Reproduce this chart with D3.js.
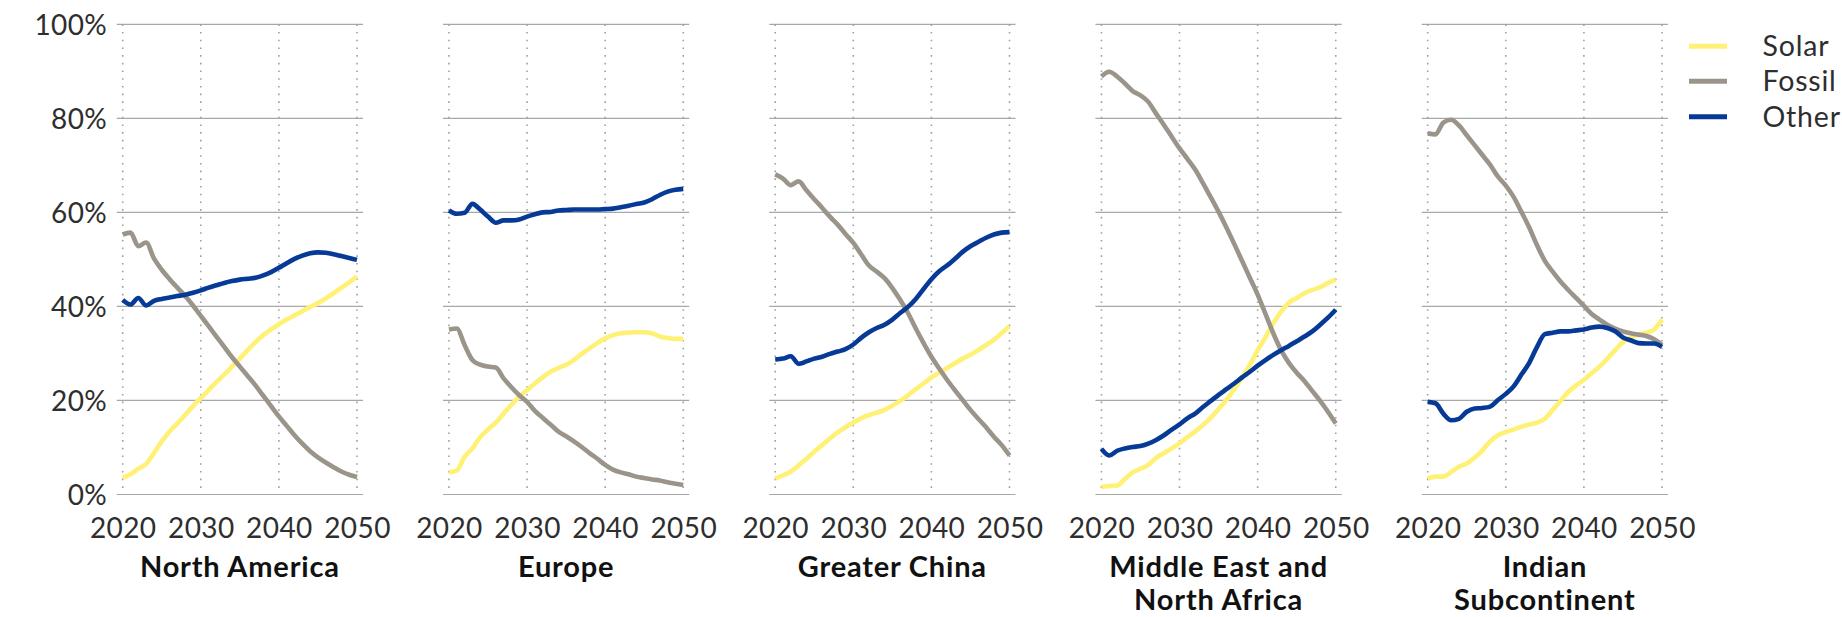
<!DOCTYPE html>
<html>
<head>
<meta charset="utf-8">
<script src="https://cdn.jsdelivr.net/npm/d3@7"></script>
<style>
  html, body { margin: 0; padding: 0; background: #fff; }
  svg { display: block; }
  text { font-family: Lato, "Open Sans", sans-serif; }
</style>
</head>
<body>
<svg id="chart" width="1842" height="617"></svg>
<script>
const years = d3.range(2020, 2051);
const regions = ["North America", "Europe", "Greater China", "Middle East and North Africa", "Indian Subcontinent"];
const regionLines = [["North America"], ["Europe"], ["Greater China"], ["Middle East and", "North Africa"], ["Indian", "Subcontinent"]];
const seriesNames = ["Solar", "Fossil", "Other"];
const yTicks = [0, 20, 40, 60, 80, 100];
const xTicks = [2020, 2030, 2040, 2050];

// North America
const naSolar  = [3.6,4.3,5.5,6.5,8.8,11.3,13.4,15.1,16.9,18.8,20.5,22.2,23.9,25.5,27.2,28.9,30.7,32.4,33.9,35.1,36.2,37.2,38.1,39.0,39.9,40.7,41.7,42.8,44.0,45.1,46.4];
const naFossil = [55.3,55.7,52.8,53.6,50.2,47.8,45.8,44.0,42.2,40.2,38.0,35.8,33.6,31.4,29.2,27.2,25.2,23.2,21.0,18.8,16.6,14.6,12.6,10.8,9.2,7.9,6.8,5.8,4.9,4.2,3.7];
const naOther  = [41.4,40.4,41.8,40.2,41.2,41.6,41.9,42.2,42.5,42.9,43.4,44.0,44.5,45.0,45.4,45.7,45.9,46.1,46.6,47.3,48.2,49.2,50.1,50.8,51.3,51.5,51.4,51.1,50.7,50.3,49.9];
// Europe
const euSolar  = [4.7,5.1,8.0,9.8,12.2,13.8,15.3,17.2,19.1,20.8,22.2,23.6,24.9,26.1,26.9,27.6,28.6,29.9,31.1,32.2,33.2,33.9,34.3,34.4,34.5,34.5,34.3,33.6,33.3,33.1,33.1];
const euFossil = [35.1,35.3,31.8,28.6,27.6,27.2,27.0,24.7,22.8,21.1,19.7,17.8,16.3,14.9,13.4,12.4,11.3,10.1,8.8,7.6,6.3,5.3,4.7,4.3,3.8,3.5,3.2,3.0,2.6,2.3,2.0];
const euOther  = [60.4,59.7,59.9,61.8,60.6,59.1,57.8,58.3,58.3,58.5,59.1,59.6,60.0,60.1,60.4,60.5,60.6,60.6,60.6,60.6,60.7,60.8,61.1,61.4,61.8,62.1,62.8,63.7,64.4,64.8,65.0];
// Greater China
const cnSolar  = [3.4,4.1,4.9,6.2,7.6,9.1,10.5,11.9,13.2,14.3,15.3,16.2,16.9,17.4,18.0,18.9,19.9,21.1,22.4,23.6,24.9,25.9,26.9,27.9,28.9,29.7,30.7,31.8,32.9,34.3,35.8];
const cnFossil = [68.1,67.2,65.8,66.6,64.7,62.8,61.0,59.1,57.4,55.4,53.5,51.1,48.7,47.4,46.0,43.9,41.4,38.6,35.3,32.2,29.3,26.8,24.4,22.2,20.1,18.0,16.1,14.3,12.3,10.5,8.3];
const cnOther  = [28.7,28.9,29.4,27.8,28.3,28.9,29.3,29.9,30.4,30.9,31.9,33.3,34.5,35.4,36.1,37.2,38.6,39.9,41.6,43.7,45.8,47.5,48.7,50.1,51.6,52.8,53.7,54.6,55.3,55.7,55.8];
// Middle East and North Africa
const meSolar  = [1.6,1.8,1.9,3.3,4.7,5.5,6.3,7.8,8.8,9.8,10.9,12.2,13.4,14.8,16.3,18.2,20.1,22.4,24.9,27.6,30.7,33.4,36.4,38.9,40.8,41.8,42.8,43.5,44.1,45.0,45.7];
const meFossil = [88.9,89.9,88.9,87.4,85.8,84.9,83.5,81.0,78.6,76.1,73.6,71.4,69.1,66.2,63.2,60.1,56.8,53.3,49.7,46.1,42.5,38.4,34.3,30.7,28.0,25.9,24.1,22.0,19.9,17.6,15.1];
const meOther  = [9.7,8.3,9.3,9.8,10.1,10.3,10.8,11.6,12.6,13.8,14.9,16.2,17.2,18.6,19.9,21.2,22.4,23.6,24.9,26.1,27.4,28.6,29.7,30.7,31.6,32.6,33.6,34.7,36.1,37.6,39.3];
// Indian Subcontinent
const inSolar  = [3.4,3.8,3.8,4.8,5.9,6.6,7.8,9.4,11.3,12.6,13.3,13.8,14.4,14.9,15.3,16.1,18.0,19.9,21.8,23.2,24.4,25.8,27.2,28.9,30.7,32.4,33.4,34.0,34.4,35.1,37.2];
const inFossil = [76.8,76.6,79.1,79.7,78.5,76.4,74.3,72.2,70.1,67.6,65.7,63.3,60.1,56.8,53.0,49.7,47.4,45.3,43.5,41.8,40.1,38.4,37.2,36.1,35.3,34.7,34.3,34.0,33.7,33.0,31.8];
const inOther  = [19.7,19.4,17.2,15.8,16.1,17.6,18.3,18.4,18.7,20.1,21.4,23.0,25.5,28.0,31.4,34.1,34.4,34.7,34.7,34.9,35.1,35.5,35.7,35.4,34.7,33.4,32.8,32.2,32.1,32.1,31.4];

const regionSeries = [
  [naSolar, naFossil, naOther],
  [euSolar, euFossil, euOther],
  [cnSolar, cnFossil, cnOther],
  [meSolar, meFossil, meOther],
  [inSolar, inFossil, inOther]
];

const colors = {Solar: "#fff176", Fossil: "#9b948b", Other: "#063a96"};

const svg = d3.select("#chart");
const panelStart = 122.7, panelStep = 326.25, panelWidth = 234.3;
const yTop = 24.3, yBottom = 494.5;
const y = d3.scaleLinear().domain([0, 100]).range([yBottom, yTop]);

regions.forEach((name, i) => {
  const x0 = panelStart + panelStep * i;
  const x = d3.scaleLinear().domain([2020, 2050]).range([x0, x0 + panelWidth]);
  const g = svg.append("g");

  // horizontal gridlines
  g.selectAll("line.h").data(yTicks).join("line")
    .attr("x1", x0 - 6).attr("x2", x0 + panelWidth + 6)
    .attr("y1", d => y(d)).attr("y2", d => y(d))
    .attr("stroke", "#a8a8a8").attr("stroke-width", 1.2);

  // vertical dotted lines
  g.selectAll("line.v").data(xTicks).join("line")
    .attr("x1", d => x(d)).attr("x2", d => x(d))
    .attr("y1", y(100)).attr("y2", y(0))
    .attr("stroke", "#a0a0a0").attr("stroke-width", 1.6)
    .attr("stroke-dasharray", "1.6,6.1");

  // x axis tick labels
  const xAxis = d3.axisBottom(x).tickValues(xTicks).tickFormat(d3.format("d")).tickSize(0).tickPadding(0);
  const xa = g.append("g").attr("transform", `translate(0,${yBottom})`).call(xAxis);
  xa.select(".domain").remove();
  xa.selectAll("text")
    .attr("y", 43).attr("dy", null)
    .attr("font-size", 28).attr("fill", "#2e2e2e")
    .attr("letter-spacing", 0.4)
    .attr("font-family", "Lato, sans-serif");

  // y axis on first panel
  if (i === 0) {
    const yAxis = d3.axisLeft(y).tickValues(yTicks).tickFormat(d => d + "%").tickSize(0).tickPadding(0);
    const ya = g.append("g").attr("transform", `translate(${x0 - 15.5},0)`).call(yAxis);
    ya.select(".domain").remove();
    ya.selectAll("text")
      .attr("font-size", 28).attr("fill", "#2e2e2e")
      .attr("dy", "0.35em")
      .attr("letter-spacing", 0.4)
      .attr("font-family", "Lato, sans-serif");
  }

  // lines
  const line = d3.line().x((d, j) => x(years[j])).y(d => y(d)).curve(d3.curveMonotoneX);
  seriesNames.forEach((s, k) => {
    g.append("path")
      .datum(regionSeries[i][k])
      .attr("d", line)
      .attr("fill", "none")
      .attr("stroke", colors[s])
      .attr("stroke-width", 4.6)
      .attr("stroke-linejoin", "round");
  });

  // title
  const t = g.append("text")
    .attr("x", x0 + panelWidth / 2)
    .attr("y", 576.5)
    .attr("text-anchor", "middle")
    .attr("font-size", 29)
    .attr("font-weight", 700)
    .attr("letter-spacing", 0.8)
    .attr("fill", "#111");
  regionLines[i].forEach((ln, j) => {
    t.append("tspan").attr("x", x0 + panelWidth / 2).attr("dy", j === 0 ? 0 : 33.5).text(ln);
  });
});

// legend
const legendY = [46.2, 81.3, 116.8];
const lg = svg.append("g");
seriesNames.forEach((s, k) => {
  lg.append("line")
    .attr("x1", 1689).attr("x2", 1727)
    .attr("y1", legendY[k]).attr("y2", legendY[k])
    .attr("stroke", colors[s]).attr("stroke-width", 5);
  lg.append("text")
    .attr("x", 1762.5).attr("y", legendY[k])
    .attr("dy", "0.35em")
    .attr("font-size", 28.5)
    .attr("letter-spacing", 0.8)
    .attr("fill", "#2e2e2e")
    .text(s);
});
</script>
</body>
</html>
